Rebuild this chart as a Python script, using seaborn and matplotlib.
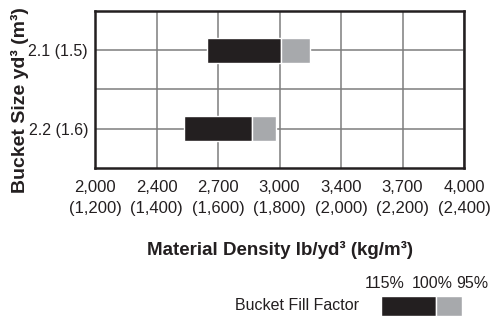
import matplotlib
matplotlib.use("Agg")
import matplotlib.pyplot as plt
import seaborn as sns

# data (density in kg/m3)
bucket_sizes = ["2.1 (1.5)", "2.2 (1.6)"]
density_115 = [1565, 1490]   # left edge of black bar (115 % fill)
density_100 = [1805, 1710]   # end of black / start of grey (100 % fill)
density_95 = [1900, 1790]    # end of grey bar (95 % fill)

kg_ticks = [1200, 1400, 1600, 1800, 2000, 2200, 2400]
lb_labels = ["2,000", "2,400", "2,700", "3,000", "3,400", "3,700", "4,000"]
kg_labels = ["(1,200)", "(1,400)", "(1,600)", "(1,800)", "(2,000)", "(2,200)", "(2,400)"]

black = "#231f20"
grey = "#a7a9ac"
gridc = "#7d7d7d"

sns.set_style("white")
plt.rcParams["font.family"] = ["Liberation Sans", "DejaVu Sans"]

fig = plt.figure(figsize=(4.9, 3.16), dpi=100)
ax = fig.add_axes([95 / 490, 1 - 168 / 316, 369 / 490, 157 / 316])

ypos = [1, 3]
bar_h = 0.63
ax.barh(ypos, [b - a for a, b in zip(density_115, density_100)], left=density_115,
        height=bar_h, color=black, zorder=3)
ax.barh(ypos, [b - a for a, b in zip(density_100, density_95)], left=density_100,
        height=bar_h, color=grey, zorder=3)

ax.set_xlim(kg_ticks[0], kg_ticks[-1])
ax.set_ylim(4, 0)
ax.set_xticks(kg_ticks)
ax.set_xticklabels([f"{a}\n{b}" for a, b in zip(lb_labels, kg_labels)], fontsize=12,
                   linespacing=1.45, color="#231f20")
ax.set_yticks([1, 2, 3])
ax.set_yticklabels([bucket_sizes[0], "", bucket_sizes[1]], fontsize=11.5, color="#231f20")
ax.tick_params(axis="x", length=0, pad=9)
ax.tick_params(axis="y", length=0, pad=5)
ax.grid(True, color=gridc, linewidth=1.1, zorder=0)
ax.set_axisbelow(True)
for s in ax.spines.values():
    s.set_visible(True)
    s.set_color("#231f20")
    s.set_linewidth(1.8)

ax.set_xlabel("Material Density lb/yd³ (kg/m³)", fontsize=13.5, fontweight="bold",
              color="#231f20")
ax.xaxis.set_label_coords(0.5, -0.465)
ax.set_ylabel("Bucket Size yd³ (m³)", fontsize=14, fontweight="bold", color="#231f20")
ax.yaxis.set_label_coords(-0.18, 0.433)

# fill factor key
key = fig.add_axes([381 / 490, 0, 81 / 490, 20 / 316])
key.barh(0, 55, color=black, height=1)
key.barh(0, 26, left=55, color=grey, height=1)
key.set_xlim(0, 81)
key.set_ylim(-0.5, 0.5)
key.axis("off")

fig.text(359 / 490, 1 - 305 / 316, "Bucket Fill Factor", ha="right", va="center",
         fontsize=11.5, color="#231f20")
fig.text(385 / 490, 1 - 283 / 316, "115%", ha="center", va="center", fontsize=11.5,
         color="#231f20")
fig.text(453 / 490, 1 - 283 / 316, "100%", ha="right", va="center", fontsize=11.5,
         color="#231f20")
fig.text(488 / 490, 1 - 283 / 316, "95%", ha="right", va="center", fontsize=11.5,
         color="#231f20")

fig.savefig("out.png", dpi=100)
